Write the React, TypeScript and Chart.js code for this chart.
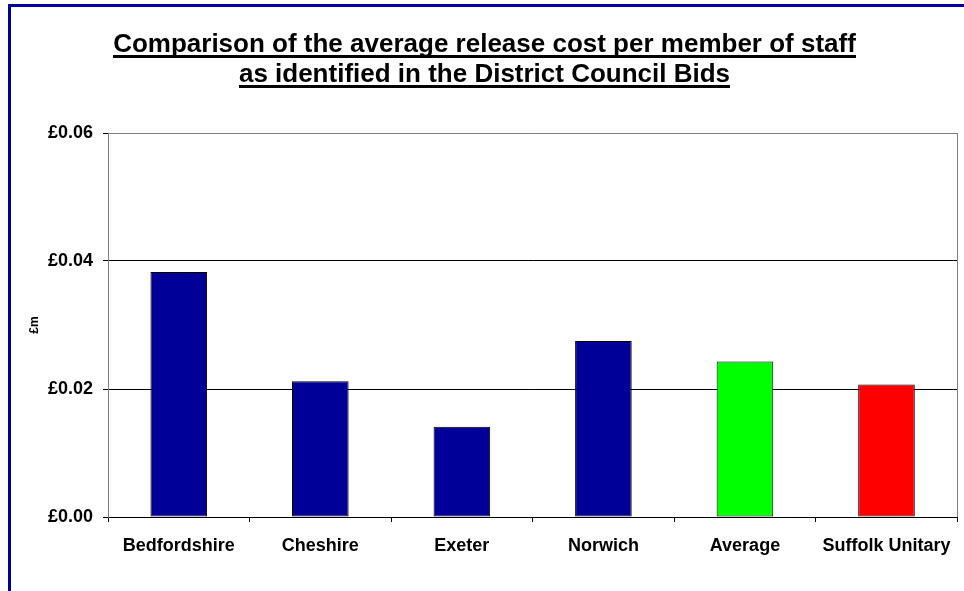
import React, { useEffect, useRef } from "react";
import { Chart, registerables } from "chart.js";

Chart.register(...registerables);

const categories = ["Bedfordshire", "Cheshire", "Exeter", "Norwich", "Average", "Suffolk Unitary"];
const values = [0.0383, 0.0212, 0.0141, 0.0275, 0.0243, 0.0207];
const barColors = ["#000099", "#000099", "#000099", "#000099", "#00FF00", "#FF0000"];
const yMin = 0;
const yMax = 0.06;
const yStep = 0.02;
const titleLines = [
  "Comparison of the average release cost per member of staff",
  "as identified in the District Council Bids",
];
const yAxisTitle = "£m";

const FONT = '"Liberation Sans", Arial, Helvetica, sans-serif';
const TITLE_SIZE = 26;
const TITLE_LINE = 30;
const TITLE_PAD_TOP = 23;

const underlinePlugin = {
  id: "titleUnderline",
  afterDraw(chart: any) {
    const tb = chart.titleBlock;
    if (!tb) return;
    const ctx = chart.ctx;
    ctx.save();
    ctx.font = `bold ${TITLE_SIZE}px ${FONT}`;
    const cx = (tb.left + tb.right) / 2;
    ctx.fillStyle = "#000";
    titleLines.forEach((line, i) => {
      const w = ctx.measureText(line).width;
      const y = tb.top + TITLE_PAD_TOP + TITLE_LINE / 2 + i * TITLE_LINE + 10;
      ctx.fillRect(Math.round(cx - w / 2), Math.round(y), Math.round(w), 3);
    });
    ctx.restore();
  },
};

const plotBorderPlugin = {
  id: "plotBorder",
  afterDatasetsDraw(chart: any) {
    const { ctx, chartArea } = chart;
    ctx.save();
    ctx.strokeStyle = "#808080";
    ctx.lineWidth = 1;
    ctx.beginPath();
    const x = Math.round(chartArea.right) + 0.5;
    ctx.moveTo(x, chartArea.top);
    ctx.lineTo(x, chartArea.bottom);
    ctx.stroke();
    ctx.restore();
  },
};

export default function App() {
  const ref = useRef<HTMLCanvasElement | null>(null);

  useEffect(() => {
    if (!ref.current) return;
    Chart.defaults.font.family = FONT;
    const chart = new Chart(ref.current, {
      type: "bar",
      data: {
        labels: categories,
        datasets: [
          {
            data: values,
            backgroundColor: barColors,
            borderColor: "#000000",
            borderWidth: 1,
            borderSkipped: false,
            barPercentage: 0.4,
            categoryPercentage: 1.0,
          },
        ],
      },
      options: {
        animation: false,
        responsive: false,
        maintainAspectRatio: false,
        layout: { padding: { left: 0, right: 6, top: 0, bottom: 0 } },
        plugins: {
          legend: { display: false },
          tooltip: { enabled: false },
          title: {
            display: true,
            text: titleLines,
            color: "#000",
            font: { size: TITLE_SIZE, weight: "bold", family: FONT, lineHeight: TITLE_LINE / TITLE_SIZE },
            padding: { top: TITLE_PAD_TOP, bottom: 43 },
          },
        },
        scales: {
          x: {
            offset: true,
            grid: {
              offset: true,
              drawOnChartArea: false,
              drawTicks: true,
              tickLength: 5,
              color: "#000",
            },
            border: { color: "#000", width: 1 },
            ticks: {
              color: "#000",
              font: { size: 18, weight: "bold", family: FONT },
              padding: 13,
              autoSkip: false,
              maxRotation: 0,
            },
            afterFit: (s: any) => {
              s.height = 74;
            },
          },
          y: {
            min: yMin,
            max: yMax,
            ticks: {
              stepSize: yStep,
              color: "#000",
              font: { size: 18, weight: "bold", family: FONT },
              padding: 10,
              callback: (v: any) => "£" + Number(v).toFixed(2),
            },
            grid: {
              color: (c: any) => (c.tick && Math.abs(c.tick.value - yMax) < 1e-9 ? "#808080" : "#000"),
              tickColor: "#000",
              tickLength: 5,
            },
            border: { color: "#808080", width: 1 },
            title: {
              display: true,
              text: yAxisTitle,
              color: "#000",
              font: { size: 12, weight: "bold", family: FONT },
              padding: { top: 16, bottom: 0 },
            },
            afterFit: (s: any) => {
              s.width = 97;
            },
          },
        },
      },
      plugins: [underlinePlugin, plotBorderPlugin],
    });
    return () => chart.destroy();
  }, []);

  return (
    <div
      style={{
        position: "absolute",
        left: 0,
        top: 0,
        width: 964,
        height: 591,
        overflow: "hidden",
        background: "#fff",
      }}
    >
      <div
        style={{
          position: "absolute",
          left: 8,
          top: 4,
          width: 980,
          height: 620,
          border: "3px solid #000099",
          boxSizing: "border-box",
        }}
      />
      <canvas
        ref={ref}
        width={953}
        height={584}
        style={{ position: "absolute", left: 11, top: 7, width: 953, height: 584 }}
      />
    </div>
  );
}
